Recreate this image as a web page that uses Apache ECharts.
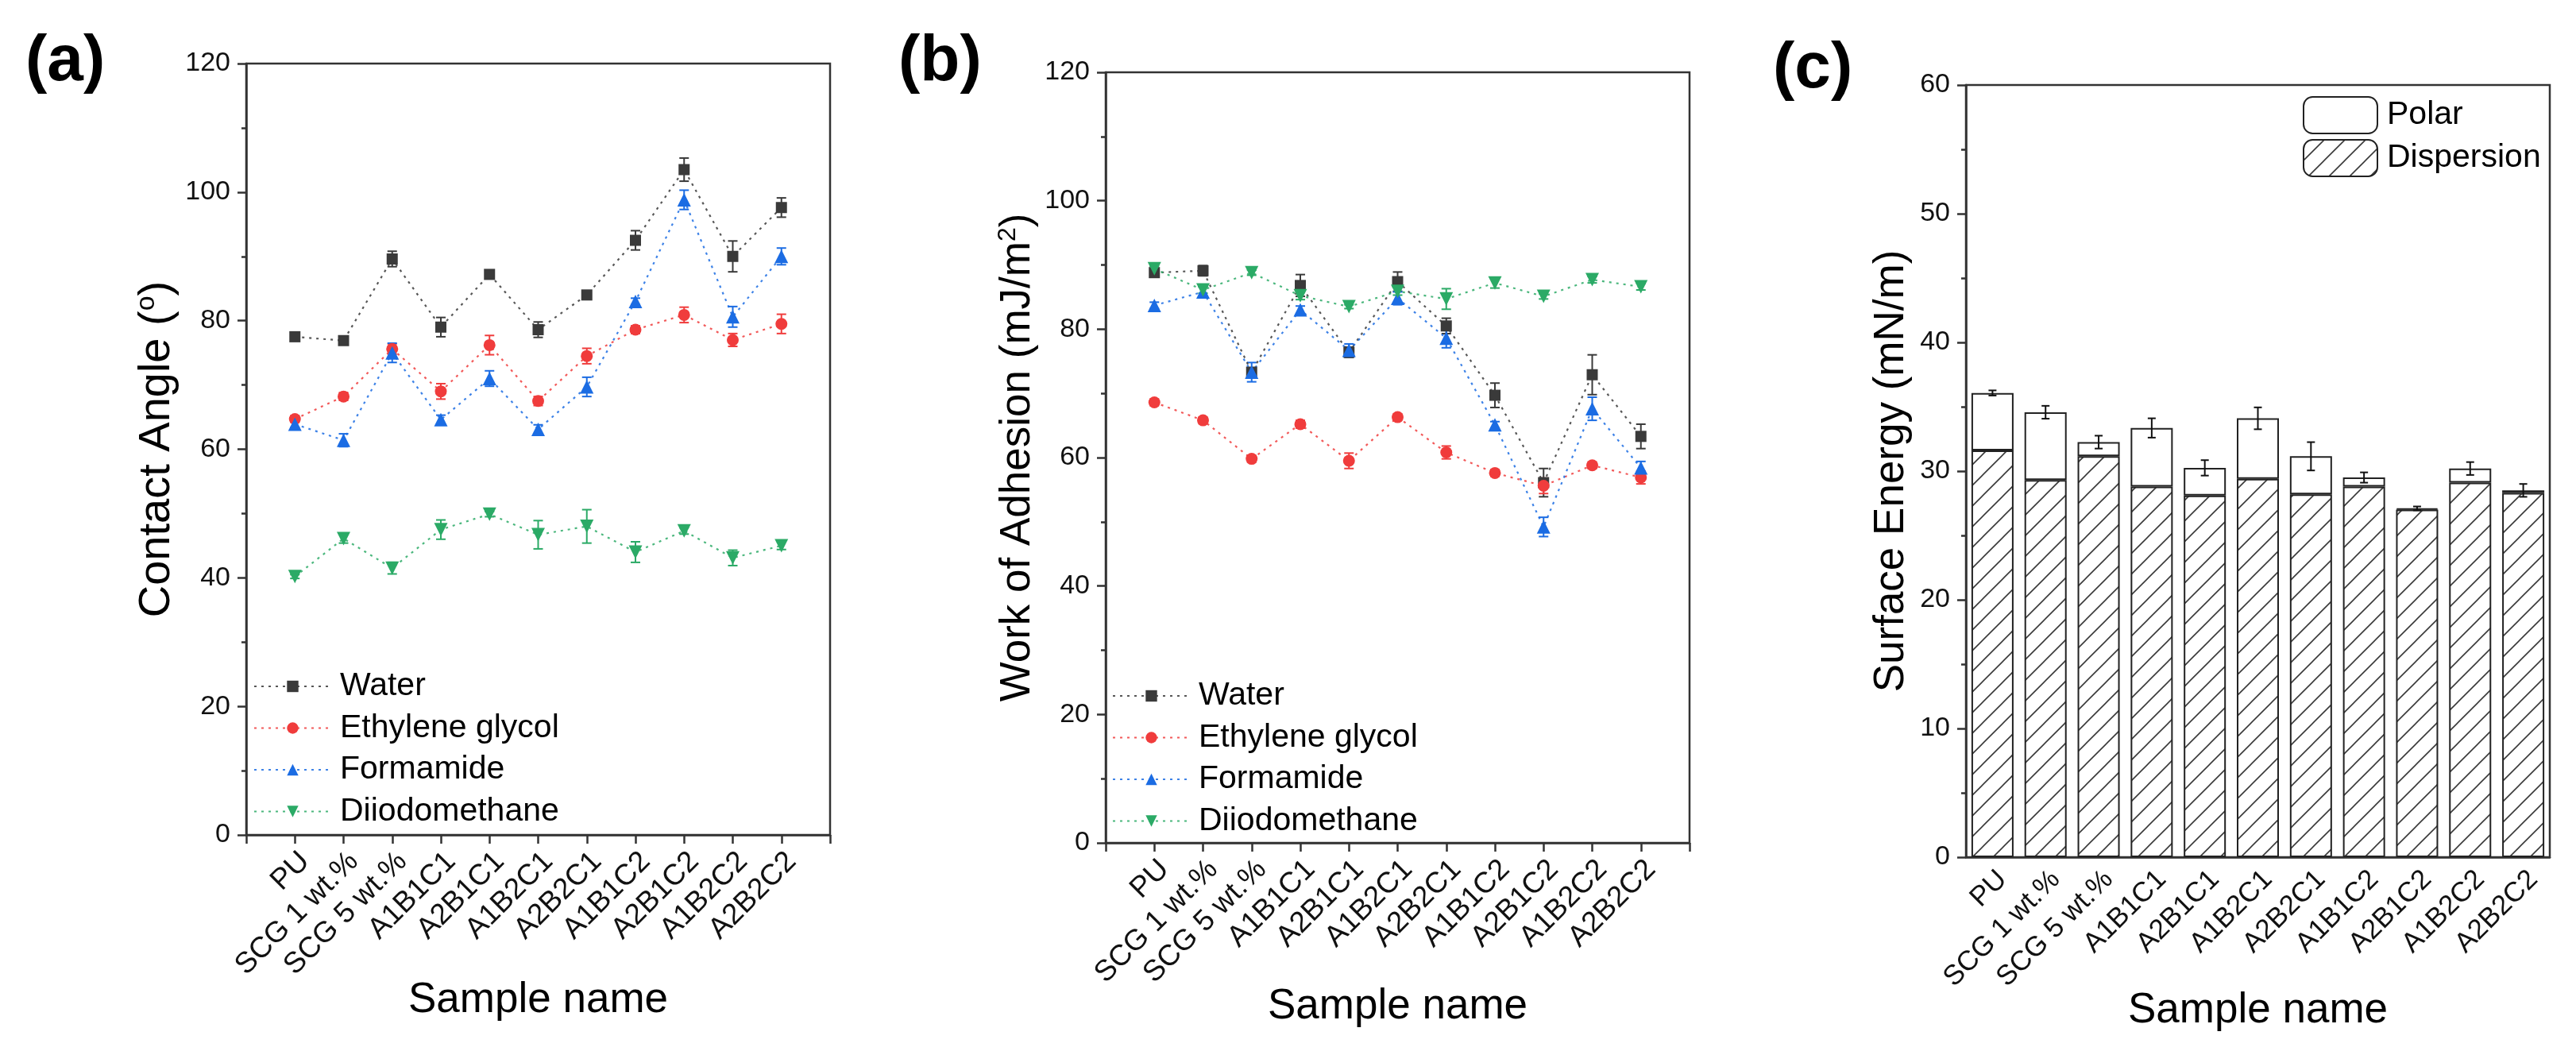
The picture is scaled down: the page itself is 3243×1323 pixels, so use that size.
<!DOCTYPE html>
<html>
<head>
<meta charset="utf-8">
<script src="https://cdn.jsdelivr.net/npm/echarts@6/dist/echarts.min.js"></script>
<style>html,body{margin:0;padding:0;background:#fff}#chart{width:3243px;height:1323px}</style>
</head>
<body>
<div id="chart"></div>
<script>
// sample names, shared by all three panels
var samples = ['PU', 'SCG 1 wt.%', 'SCG 5 wt.%', 'A1B1C1', 'A2B1C1', 'A1B2C1', 'A2B2C1', 'A1B1C2', 'A2B1C2', 'A1B2C2', 'A2B2C2'];
var liquids = ['Water', 'Ethylene glycol', 'Formamide', 'Diiodomethane'];

// (a) contact angle, degrees
var angleWater = [77.5, 76.9, 89.6, 79.0, 87.2, 78.6, 84.0, 92.5, 103.5, 90.0, 97.6];
var angleWaterErr = [0.5, 0.5, 1.2, 1.5, 0.5, 1.2, 0.5, 1.5, 1.8, 2.4, 1.5];
var angleGlycol = [64.7, 68.2, 75.6, 69.0, 76.2, 67.5, 74.5, 78.6, 80.9, 77.0, 79.5];
var angleGlycolErr = [0.5, 0.6, 0.8, 1.2, 1.5, 0.7, 1.2, 0.6, 1.2, 1.0, 1.5];
var angleForm = [63.9, 61.4, 75.0, 64.6, 71.0, 63.1, 69.7, 83.0, 98.8, 80.6, 90.0];
var angleFormErr = [0.5, 1.0, 1.5, 0.7, 1.2, 0.7, 1.5, 0.5, 1.5, 1.6, 1.3];
var angleDiiodo = [40.2, 46.1, 41.5, 47.5, 49.9, 46.7, 48.0, 44.0, 47.3, 43.1, 45.0];
var angleDiiodoErr = [0.3, 0.7, 0.9, 1.5, 0.4, 2.2, 2.6, 1.6, 0.5, 1.2, 0.6];

// (b) work of adhesion, mJ/m2
var workWater = [88.8, 89.1, 73.3, 86.8, 76.4, 87.4, 80.5, 69.7, 56.1, 72.9, 63.3];
var workWaterErr = [0.5, 0.8, 0.6, 1.7, 0.8, 1.5, 1.2, 1.9, 2.2, 3.1, 1.9];
var workGlycol = [68.6, 65.8, 59.8, 65.2, 59.5, 66.3, 60.8, 57.6, 55.6, 58.8, 56.9];
var workGlycolErr = [0.5, 0.5, 0.5, 0.6, 1.2, 0.5, 1.0, 0.5, 1.2, 0.5, 1.0];
var workForm = [83.7, 85.8, 73.3, 83.0, 76.7, 84.8, 78.6, 65.1, 49.2, 67.6, 58.4];
var workFormErr = [0.5, 0.8, 1.5, 0.6, 1.0, 1.0, 1.5, 0.5, 1.5, 1.8, 1.0];
var workDiiodo = [89.4, 86.1, 88.8, 85.2, 83.5, 85.9, 84.7, 87.2, 85.1, 87.7, 86.6];
var workDiiodoErr = [0.4, 0.5, 0.4, 0.6, 0.3, 0.6, 1.6, 0.8, 0.4, 0.5, 0.5];

// (c) surface energy, mN/m
var dispersion = [31.6, 29.3, 31.15, 28.8, 28.1, 29.4, 28.2, 28.8, 27.0, 29.1, 28.3];
var total = [36.07, 34.57, 32.25, 33.35, 30.25, 34.1, 31.15, 29.5, 27.1, 30.2, 28.5];
var totalErr = [0.2, 0.5, 0.5, 0.75, 0.6, 0.85, 1.1, 0.4, 0.15, 0.5, 0.5];
var polar = total.map(function(t, i) { return +(t - dispersion[i]).toFixed(2) });

var colors = ['#3a3a3a', '#f03c3c', '#1b6ce3', '#2baa66'];
var symbols = ['rect', 'circle', 'triangle', 'triangle'];
var rotates = [0, 0, 0, 180];
var sizes = [14, 15, 17, 17];
var FONT = '"Liberation Sans", Arial, sans-serif';
var AXIS = '#333';

var hatch = document.createElement('canvas');
hatch.width = 26, hatch.height = 26;
var g = hatch.getContext('2d');
g.fillStyle = '#fff', g.fillRect(0, 0, 26, 26);
g.strokeStyle = '#3a3a3a', g.lineWidth = 1.6;
g.beginPath();
g.moveTo(-2, 28), g.lineTo(28, -2);
g.moveTo(-8, 8), g.lineTo(8, -8);
g.moveTo(18, 34), g.lineTo(34, 18);
g.stroke();

function errBars(color, cap, width) {
    return function(params, api) {
        var x = api.value(0), y = api.value(1), e = api.value(2);
        var hi = api.coord([x, y + e]), lo = api.coord([x, y - e]);
        var st = {stroke: color, lineWidth: width};
        return {type: 'group', children: [
            {type: 'line', shape: {x1: hi[0], y1: hi[1], x2: lo[0], y2: lo[1]}, style: st},
            {type: 'line', shape: {x1: hi[0] - cap, y1: hi[1], x2: hi[0] + cap, y2: hi[1]}, style: st},
            {type: 'line', shape: {x1: lo[0] - cap, y1: lo[1], x2: lo[0] + cap, y2: lo[1]}, style: st},
        ]};
    };
}

// rotated sample labels, pushed down-right so their ends sit past the tick like in Origin
function catText(name) { return name ? '{l|' + name + '}' : '' }
function catLabel(size, margin, push) {
    return {rotate: 45, margin: margin, fontSize: size, color: '#111', fontFamily: FONT,
        rich: {l: {fontSize: size, color: '#111', fontFamily: FONT, padding: [push, 0, 0, 0]}}};
}

function valueX(idx, nameGap) {
    return {type: 'value', gridIndex: idx, min: 0, max: 12, interval: 1,
        axisLine: {lineStyle: {color: AXIS, width: 2.5}},
        axisTick: {length: 11, lineStyle: {color: AXIS, width: 2.5}},
        axisLabel: Object.assign({formatter: function(v) { return catText(samples[v - 1]) }}, catLabel(37, 15, 36)),
        splitLine: {show: false},
        name: 'Sample name', nameLocation: 'middle', nameGap: nameGap, nameMoveOverlap: false,
        nameTextStyle: {fontSize: 53, color: '#000', fontFamily: FONT}};
}

function valueY(idx, max, step, name, nameGap, size) {
    return {type: 'value', gridIndex: idx, min: 0, max: max, interval: step,
        axisLine: {show: true, lineStyle: {color: AXIS, width: 2.5}},
        axisTick: {show: true, length: 11, lineStyle: {color: AXIS, width: 2.5}},
        minorTick: {show: true, splitNumber: 2, length: 6, lineStyle: {color: AXIS, width: 2.5}},
        axisLabel: {fontSize: 34, color: '#111', margin: 20, fontFamily: FONT},
        splitLine: {show: false},
        name: name, nameLocation: 'middle', nameGap: nameGap, nameMoveOverlap: false,
        nameTextStyle: {fontSize: size, color: '#000', fontFamily: FONT,
            rich: {s: {fontSize: Math.round(size * 0.6), fontFamily: FONT, color: '#000', padding: [0, 0, Math.round(size * 0.45), 0]}}}};
}

var angleSets = [[angleWater, angleWaterErr], [angleGlycol, angleGlycolErr], [angleForm, angleFormErr], [angleDiiodo, angleDiiodoErr]];
var workSets = [[workWater, workWaterErr], [workGlycol, workGlycolErr], [workForm, workFormErr], [workDiiodo, workDiiodoErr]];

var series = [];
[angleSets, workSets].forEach(function(sets, gi) {
    sets.forEach(function(set, k) {
        series.push({type: 'custom', name: liquids[k] + ' err', xAxisIndex: gi, yAxisIndex: gi,
            renderItem: errBars(colors[k], 6, 2), encode: {x: 0, y: 1}, z: 3,
            data: set[0].map(function(v, i) { return [i + 1, v, set[1][i]] })});
        series.push({type: 'line', name: liquids[k], xAxisIndex: gi, yAxisIndex: gi, z: 4,
            symbol: symbols[k], symbolRotate: rotates[k], symbolSize: sizes[k],
            itemStyle: {color: colors[k]},
            lineStyle: {color: colors[k], width: 2.2, type: [3, 6], opacity: 0.85},
            data: set[0].map(function(v, i) { return [i + 1, v] })});
    });
});

series.push({type: 'bar', name: 'Dispersion', xAxisIndex: 2, yAxisIndex: 2, stack: 'se', barWidth: 53,
    itemStyle: {color: {image: hatch, repeat: 'repeat'}, borderColor: '#222', borderWidth: 2}, data: dispersion});
series.push({type: 'bar', name: 'Polar', xAxisIndex: 2, yAxisIndex: 2, stack: 'se', barWidth: 53,
    itemStyle: {color: '#fff', borderColor: '#222', borderWidth: 2}, data: polar});
series.push({type: 'custom', name: 'Total err', xAxisIndex: 2, yAxisIndex: 2, z: 5,
    renderItem: errBars('#111', 5, 2), encode: {x: 0, y: 1},
    data: total.map(function(v, i) { return [i, v, totalErr[i]] })});

var lineLegend = {orient: 'vertical', padding: 0, itemWidth: 97, itemHeight: 18, itemGap: 8.5,
    textStyle: {fontSize: 41, color: '#000', fontFamily: FONT, lineHeight: 44, padding: [0, 0, 0, 6]}, data: liquids};

var chart = echarts.init(document.getElementById('chart'), null, {renderer: 'canvas'});
chart.setOption({
    animation: false,
    backgroundColor: '#fff',
    textStyle: {fontFamily: FONT},
    title: [
        {text: '(a)', left: 27, top: 32, textStyle: {fontSize: 82, fontWeight: 'bold', color: '#000', fontFamily: FONT}},
        {text: '(b)', left: 1126, top: 32, textStyle: {fontSize: 82, fontWeight: 'bold', color: '#000', fontFamily: FONT}},
        {text: '(c)', left: 2227, top: 41, textStyle: {fontSize: 82, fontWeight: 'bold', color: '#000', fontFamily: FONT}},
    ],
    legend: [
        Object.assign({left: 319, top: 842}, lineLegend),
        Object.assign({left: 1400, top: 854}, lineLegend),
        {orient: 'vertical', padding: 0, left: 2899, top: 121, itemWidth: 93, itemHeight: 46, itemGap: 6,
            textStyle: {fontSize: 41, color: '#000', fontFamily: FONT, padding: [0, 0, 0, 7]}, data: ['Polar', 'Dispersion']},
    ],
    grid: [
        {left: 310, top: 80, width: 735, height: 971, show: true, borderColor: AXIS, borderWidth: 2.5},
        {left: 1392, top: 91, width: 735, height: 970, show: true, borderColor: AXIS, borderWidth: 2.5},
        {left: 2475, top: 107, width: 735, height: 972, show: true, borderColor: AXIS, borderWidth: 2.5},
    ],
    xAxis: [
        valueX(0, 182),
        valueX(1, 180),
        {type: 'category', gridIndex: 2, data: samples, boundaryGap: true,
            axisLine: {lineStyle: {color: AXIS, width: 2.5}},
            axisTick: {alignWithLabel: true, length: 11, lineStyle: {color: AXIS, width: 2.5}},
            axisLabel: Object.assign({interval: 0, formatter: catText}, catLabel(35, 10, 36)),
            name: 'Sample name', nameLocation: 'middle', nameGap: 167, nameMoveOverlap: false,
            nameTextStyle: {fontSize: 53, color: '#000', fontFamily: FONT}},
        // short inner ticks between the bars
        {type: 'category', gridIndex: 2, data: samples, boundaryGap: true, position: 'bottom',
            axisLine: {show: false}, axisLabel: {show: false},
            axisTick: {inside: true, length: 8, interval: 0, lineStyle: {color: AXIS, width: 2}}},
    ],
    yAxis: [
        valueY(0, 120, 20, 'Contact Angle ({s|o})', 83, 56),
        valueY(1, 120, 20, 'Work of Adhesion (mJ/m{s|2})', 83, 53),
        valueY(2, 60, 10, 'Surface Energy (mN/m)', 67, 53),
    ],
    series: series,
});
</script>
</body>
</html>
